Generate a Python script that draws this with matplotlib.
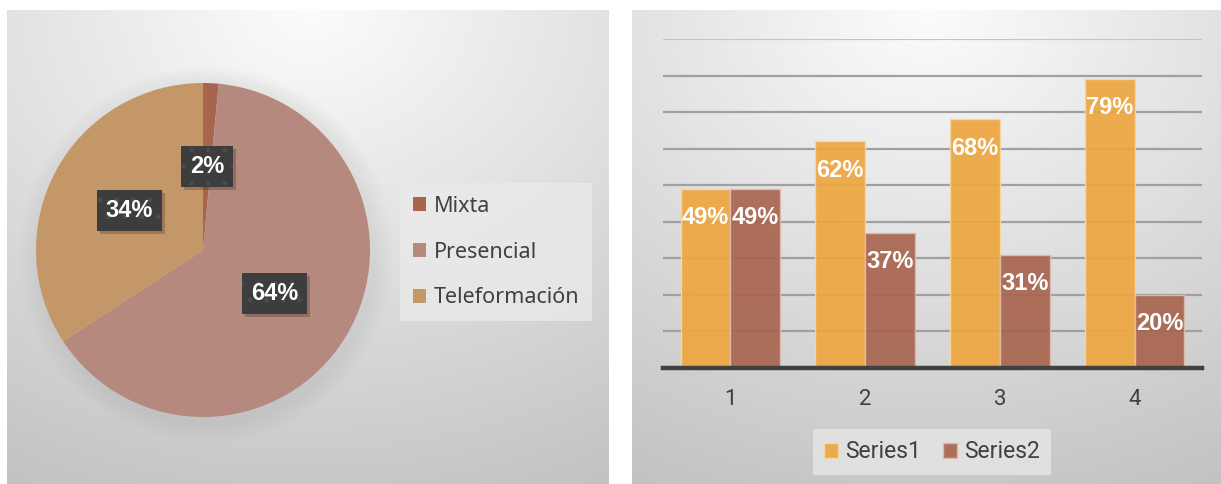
import numpy as np
import matplotlib
matplotlib.use("Agg")
import matplotlib.pyplot as plt
from matplotlib.patches import Patch, Circle, Rectangle
from matplotlib.transforms import IdentityTransform

# ---- data ----
modalidades = ["Mixta", "Presencial", "Teleformación"]
modalidad_pct = [1.5, 64.3, 34.2]
modalidad_colors = ["#A8644C", "#B5897D", "#C49769"]

categorias = ["1", "2", "3", "4"]
series1 = [49, 62, 68, 79]
series2 = [49, 37, 31, 20]
series_names = ["Series1", "Series2"]
series_colors = ["#EDA63F", "#A8654F"]

W, H = 1221, 484
fig = plt.figure(figsize=(W / 100, H / 100), dpi=100)

# ---- panel backgrounds (soft radial fills) ----
bg = np.ones((H, W, 3))
yy, xx = np.mgrid[0:H, 0:W]


def fill_panel(x0, x1, y0, y1):
    cx = (x0 + x1) / 2
    u = (xx - cx) / ((x1 - x0) / 2)
    v = (yy - y0) / (y1 - y0)
    d = np.sqrt((0.5 * u) ** 2 + v ** 2)
    val = (252 - 52 * np.clip(d, 0, 1.2)) / 255
    m = (xx >= x0) & (xx < x1) & (yy >= y0) & (yy < y1)
    for c in range(3):
        bg[..., c][m] = val[m]


fill_panel(7, 609, 10, 484)
fill_panel(632, 1221, 10, 484)
bgax = fig.add_axes([0, 0, 1, 1], zorder=-10)
bgax.imshow(bg, aspect="auto", interpolation="bilinear")
bgax.axis("off")


def px_axes(x0, y0, x1, y1, **kw):
    return fig.add_axes([x0 / W, 1 - y1 / H, (x1 - x0) / W, (y1 - y0) / H], **kw)


# ---- pie ----
pcx, pcy, pr = 203, 250, 167
pax = px_axes(pcx - pr, pcy - pr, pcx + pr, pcy + pr)
pax.set_facecolor("none")
# soft halo behind the pie
for i in range(6):
    pax.add_patch(Circle((0.02, -0.03), 1.0 + 0.02 * (i + 1), color="#808080",
                         alpha=0.02, lw=0, zorder=0, clip_on=False))
wedges, texts, autotexts = pax.pie(
    modalidad_pct, colors=modalidad_colors, startangle=90, counterclock=False,
    autopct="%.0f%%", pctdistance=0.5, radius=1.0,
    wedgeprops=dict(linewidth=0))
for w in wedges:
    w.set_zorder(2)
label_font = dict(family="Liberation Sans", weight="bold", size=17)
for t in autotexts:
    t.set_fontproperties(label_font)
    t.set_color("white")
    t.set_zorder(5)
    t.set_bbox(dict(boxstyle="square,pad=0.38", facecolor="#3d3d3d",
                    edgecolor="#4b4b4b", linewidth=0, hatch="."))
pax.set_xlim(-1, 1)
pax.set_ylim(-1, 1)
pax.set_aspect("equal")
pax.axis("off")

# drop shadows under the label boxes
fig.canvas.draw()
renderer = fig.canvas.get_renderer()
for t in autotexts:
    ext = t.get_bbox_patch().get_window_extent(renderer)
    shadow = Rectangle((ext.x0 + 3, ext.y0 - 3), ext.width, ext.height,
                       facecolor="#000000", alpha=0.2, linewidth=0)
    pax.add_artist(shadow)
    shadow.set_transform(IdentityTransform())
    shadow.set_zorder(4)
    shadow.set_clip_on(False)

pie_handles = [Patch(facecolor=c, edgecolor="none") for c in modalidad_colors]
leg1 = fig.legend(pie_handles, modalidades, loc="upper left",
                  bbox_to_anchor=(400 / W, 1 - 183 / H),
                  prop=dict(family="Noto Sans", size=15.5), labelcolor="#404040",
                  frameon=True, fancybox=False, handlelength=0.62, handleheight=0.62,
                  handletextpad=0.35, labelspacing=1.15, borderpad=0.6,
                  borderaxespad=0)
leg1.get_frame().set_facecolor("#ebebeb")
leg1.get_frame().set_alpha(0.75)
leg1.get_frame().set_linewidth(0)

# ---- grouped bars ----
bax = px_axes(663, 39, 1202, 368)
bax.set_facecolor("none")
x = np.arange(len(categorias))
bw = 0.37
bars1 = bax.bar(x - bw / 2, series1, bw, color=series_colors[0], alpha=0.92,
                edgecolor="#F7D7A4", linewidth=1.0, zorder=3, label=series_names[0])
bars2 = bax.bar(x + bw / 2, series2, bw, color=series_colors[1], alpha=0.92,
                edgecolor="#DDBBAE", linewidth=1.0, zorder=3, label=series_names[1])
for cont, vals in ((bars1, series1), (bars2, series2)):
    bax.bar_label(cont, labels=[f"{v}%" for v in vals], padding=-29,
                  color="white", fontsize=17, fontweight="bold",
                  fontfamily="Liberation Sans", zorder=6)

bax.set_xlim(-0.5, len(categorias) - 0.5)
bax.set_ylim(0, 90)
bax.set_yticks(np.arange(10, 91, 10))
bax.yaxis.grid(True, color="#a0a0a0", linewidth=1.6, zorder=0)
bax.get_ygridlines()[-1].set_color("#c4c4c4")
bax.set_axisbelow(True)
bax.tick_params(axis="y", length=0, labelleft=False)
bax.set_xticks(x)
bax.set_xticklabels(categorias, fontsize=16, color="#404040", fontfamily="Roboto")
bax.tick_params(axis="x", length=0, pad=15)
for s in ("left", "right", "top"):
    bax.spines[s].set_visible(False)
bax.spines["bottom"].set_color("#404040")
bax.spines["bottom"].set_linewidth(3.2)
bax.spines["bottom"].set_zorder(5)

bar_handles = [Patch(facecolor=series_colors[0], edgecolor="#F7D7A4", alpha=0.92),
               Patch(facecolor=series_colors[1], edgecolor="#DDBBAE", alpha=0.92)]
leg2 = fig.legend(bar_handles, series_names, loc="center",
                  bbox_to_anchor=(932 / W, 1 - 452 / H), ncol=2,
                  prop=dict(family="Roboto", size=16.5), labelcolor="#404040",
                  frameon=True, fancybox=False, handlelength=0.6, handleheight=0.6,
                  handletextpad=0.3, columnspacing=1.0, borderpad=0.5,
                  borderaxespad=0)
leg2.get_frame().set_facecolor("#e4e4e4")
leg2.get_frame().set_alpha(0.85)
leg2.get_frame().set_linewidth(0)

fig.savefig("out.png", dpi=100)
